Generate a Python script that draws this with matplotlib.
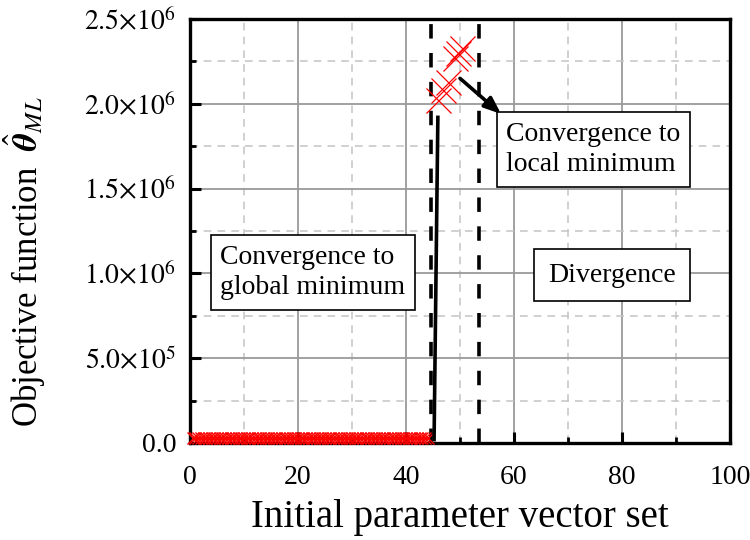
import matplotlib
matplotlib.use("Agg")
import matplotlib.pyplot as plt
from matplotlib.ticker import FixedLocator, FixedFormatter, MultipleLocator

plt.rcParams['font.family'] = ['Liberation Serif', 'DejaVu Serif']
plt.rcParams['mathtext.fontset'] = 'stix'

# ---- data ----
low_x = [0.5, 1.0, 1.5, 2.0, 2.5, 3.0, 3.5, 4.0, 4.5, 5.0, 5.5, 6.0, 6.5, 7.0, 7.5,
         8.0, 8.5, 9.0, 9.5, 10.0, 10.5, 11.0, 11.5, 12.0, 12.5, 13.0, 13.5, 14.0,
         14.5, 15.0, 15.5, 16.0, 16.5, 17.0, 17.5, 18.0, 18.5, 19.0, 19.5, 20.0,
         20.5, 21.0, 21.5, 22.0, 22.5, 23.0, 23.5, 24.0, 24.5, 25.0, 25.5, 26.0,
         26.5, 27.0, 27.5, 28.0, 28.5, 29.0, 29.5, 30.0, 30.5, 31.0, 31.5, 32.0,
         32.5, 33.0, 33.5, 34.0, 34.5, 35.0, 35.5, 36.0, 36.5, 37.0, 37.5, 38.0,
         38.5, 39.0, 39.5, 40.0, 40.5, 41.0, 41.5, 42.0, 42.5, 43.0, 43.5, 44.0]
low_y = [3.0e4] * len(low_x)
high_x = [45.9, 46.9, 47.8, 49.0, 49.6, 50.3]
high_y = [2.02e6, 2.08e6, 2.13e6, 2.27e6, 2.30e6, 2.33e6]
boundary_x = [44.6, 53.5]
x_ticks = [0, 20, 40, 60, 80, 100]
x_ticklabels = ['0', '20', '40', '60', '80', '100']
y_ticks = [0, 0.5e6, 1.0e6, 1.5e6, 2.0e6, 2.5e6]
y_ticklabels = ['0.0', r'$5.0{\times}10^5$', r'$1.0{\times}10^6$', r'$1.5{\times}10^6$',
                r'$2.0{\times}10^6$', r'$2.5{\times}10^6$']

fig = plt.figure(figsize=(7.5, 5.4), dpi=100)
ax = fig.add_axes([190/750, 1-443/540, 540/750, 424/540])

ax.set_xlim(0, 100)
ax.set_ylim(0, 2.5e6)

ax.xaxis.set_major_locator(FixedLocator(x_ticks))
ax.xaxis.set_major_formatter(FixedFormatter(x_ticklabels))
ax.xaxis.set_minor_locator(MultipleLocator(10))
ax.yaxis.set_major_locator(FixedLocator(y_ticks))
ax.yaxis.set_major_formatter(FixedFormatter(y_ticklabels))
ax.yaxis.set_minor_locator(MultipleLocator(0.25e6))
ax.grid(which='major', color='#9a9a9a', lw=1.3, ls='-', zorder=0)
ax.grid(which='minor', color='#c4c4c4', lw=1.1, ls=(0, (5, 4)), zorder=0)
ax.set_axisbelow(True)

ax.tick_params(which='major', direction='in', length=8, width=2.2,
               top=False, right=False, labelsize=20, pad=10)
ax.tick_params(which='minor', direction='in', length=4, width=2.0,
               top=False, right=False)
ax.tick_params(axis='x', labelsize=20, pad=16)
for s in ax.spines.values():
    s.set_linewidth(2.4)

# boundaries
for bx in boundary_x:
    ax.axvline(bx, color='black', lw=2.6, ls=(0, (4, 4)), zorder=3)

# markers
ax.plot(low_x, low_y, ls='none', marker='x', color='red', ms=8, mew=1.0,
        clip_on=False, zorder=4)
ax.plot(high_x, high_y, ls='none', marker='x', color='red', ms=18, mew=0.9,
        zorder=4)

# solid line
ax.plot([45.2, 45.9], [0.02e6, 1.92e6], color='black', lw=2.6, zorder=5)

# arrow
ax.annotate('', xy=(57.6, 1.94e6), xytext=(50.0, 2.15e6),
            arrowprops=dict(arrowstyle='-|>,head_length=1.0,head_width=0.4',
                            color='black', lw=2.6, shrinkA=0, shrinkB=0),
            zorder=6)

bbox = dict(boxstyle='square,pad=0.35', fc='white', ec='black', lw=1.2)
ax.text(5.6, 1.005e6, 'Convergence to\nglobal minimum', ha='left', va='center',
        fontsize=20, bbox=bbox, linespacing=1.3, zorder=7)
ax.text(78.1, 0.99e6, 'Divergence', ha='center', va='center',
        fontsize=20, bbox=dict(boxstyle='square,pad=0.5', fc='white', ec='black', lw=1.2),
        zorder=7)
ax.text(58.6, 1.73e6, 'Convergence to\nlocal minimum', ha='left', va='center',
        fontsize=20, bbox=bbox, linespacing=1.3, zorder=7)

ax.set_xlabel('Initial parameter vector set', fontsize=28, labelpad=6)
ax.set_ylabel(r'Objective function  $\hat{\boldsymbol{\theta}}_{ML}$', fontsize=25)
ax.yaxis.set_label_coords(-(190 - 48) / 540, (443 - 262) / 424)

fig.savefig('out.png', dpi=100)
